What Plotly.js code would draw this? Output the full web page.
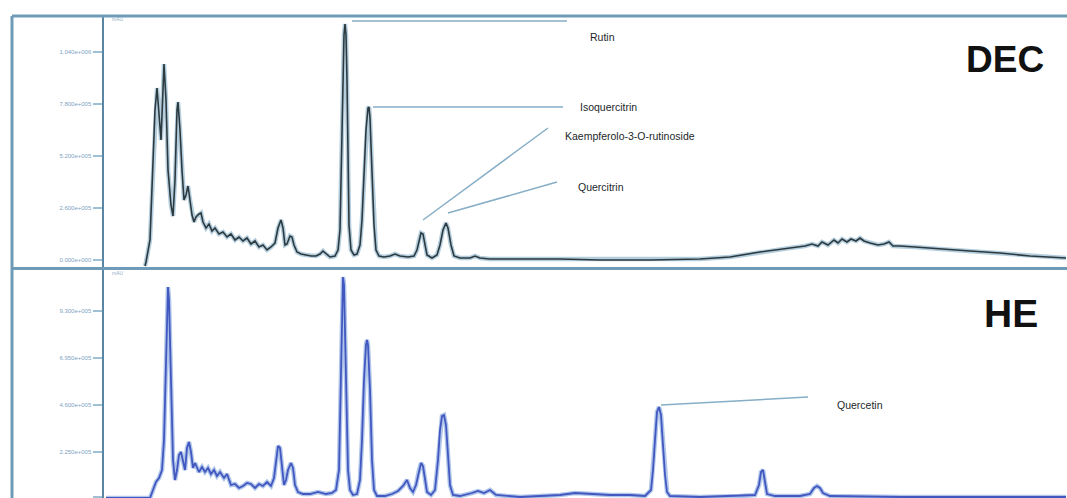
<!DOCTYPE html>
<html>
<head>
<meta charset="utf-8">
<script src="https://cdn.plot.ly/plotly-3.0.1.min.js"></script>
<style>html,body{margin:0;padding:0;background:#fff;}#chart{width:1067px;height:498px;}</style>
</head>
<body>
<div id="chart"></div>
<script>
// Retention time (min) and detector response (x1000 counts)
const decTime = [2.05,2.1,2.3,2.45,2.55,2.65,2.75,2.85,2.95,3.0,3.1,3.2,3.35,3.45,3.55,3.65,3.7,3.8,3.9,
  4.0,4.1,4.2,4.3,4.4,4.5,4.6,4.75,4.85,4.95,5.1,5.25,5.4,5.55,5.75,5.95,6.15,6.35,6.55,6.75,
  6.95,7.15,7.35,7.55,7.75,7.95,8.15,8.35,8.55,8.7,8.85,8.95,9.05,9.15,9.3,9.4,9.5,9.65,9.85,10.1,
  10.35,10.6,10.8,10.95,11.1,11.3,11.55,11.7,11.8,11.85,11.9,11.95,12.0,12.05,12.1,12.15,12.2,12.25,12.35,12.5,
  12.65,12.8,12.9,13.0,13.1,13.2,13.25,13.3,13.4,13.5,13.6,13.75,14.0,14.3,14.55,14.8,15.2,15.5,15.65,15.75,
  15.85,15.95,16.05,16.15,16.4,16.65,16.8,16.95,17.1,17.2,17.35,17.5,17.8,18.3,18.55,18.8,19.3,20.8,22.8,24.8,
  27.3,29.8,31.3,32.8,34.3,35.05,35.4,35.7,35.9,36.2,36.5,36.7,36.9,37.15,37.35,37.6,37.8,38.0,38.3,38.7,
  39.0,39.25,39.45,39.8,40.55,41.8,43.3,44.8,46.3,48.1];
const decSignal = [-30,-10,100,450,750,860,750,600,850,980,800,450,275,220,400,750,790,650,450,
  300,325,370,300,225,190,215,230,235,190,160,180,145,160,130,140,115,130,100,115,
  95,110,80,95,65,75,50,65,85,160,200,160,75,80,120,115,75,40,30,25,
  20,20,30,45,30,15,20,50,150,400,700,1000,1125,1180,1125,900,500,175,50,25,
  30,75,200,400,650,760,765,710,450,175,50,20,15,20,30,20,15,20,50,100,
  135,130,75,25,10,25,75,150,185,160,75,20,10,10,20,10,5,5,5,0,
  0,5,15,40,60,70,80,70,90,75,100,85,105,90,105,95,110,95,85,75,
  80,90,70,70,65,55,45,35,20,10];

const heTime = [0.1,2.3,2.45,2.6,2.75,2.9,3.0,3.1,3.15,3.2,3.25,3.3,3.35,3.45,3.55,3.65,3.75,3.85,3.95,4.05,
  4.15,4.25,4.35,4.45,4.55,4.65,4.75,4.9,5.05,5.2,5.35,5.5,5.65,5.8,6.0,6.15,6.35,6.55,6.75,6.95,
  7.15,7.35,7.55,7.75,7.95,8.15,8.35,8.5,8.6,8.7,8.8,8.9,9.0,9.1,9.2,9.35,9.45,9.55,9.7,9.95,
  10.3,10.7,11.1,11.4,11.6,11.75,11.8,11.85,11.9,11.95,12.0,12.05,12.1,12.2,12.3,12.45,12.65,12.8,12.9,13.0,
  13.1,13.15,13.2,13.3,13.4,13.5,13.65,14.05,14.4,14.7,14.95,15.15,15.3,15.45,15.6,15.75,15.85,15.95,16.05,16.15,
  16.35,16.55,16.7,16.8,16.9,17.0,17.1,17.2,17.3,17.45,17.8,18.4,18.7,19.0,19.3,19.6,20.05,20.8,21.8,22.8,
  23.55,24.3,25.3,26.3,27.05,27.35,27.45,27.55,27.65,27.75,27.85,27.95,28.05,28.15,28.3,29.8,31.8,32.55,32.75,32.85,
  32.95,33.05,33.15,33.55,34.8,35.3,35.5,35.65,35.8,35.95,36.3,39.8,44.8,48.1];
const heSignal = [-5,-5,35,75,95,135,285,735,985,1050,985,835,585,185,85,135,210,225,175,135,
  245,275,225,145,170,145,125,150,125,145,115,135,105,125,95,115,60,65,45,55,
  70,65,45,65,55,75,55,95,185,255,245,135,60,85,135,170,145,60,25,15,
  15,25,15,20,35,135,385,735,985,1100,1060,835,485,135,35,10,15,85,285,585,
  760,785,760,535,185,35,5,5,15,30,55,85,45,25,60,135,170,155,85,25,
  10,35,185,335,405,410,360,210,60,10,5,20,30,20,35,10,5,0,5,10,
  20,15,10,10,5,35,135,285,425,450,410,260,110,25,5,0,5,10,60,125,
  135,65,15,5,5,15,45,55,45,20,5,0,0,0];

const panelNames = ["DEC", "HE"];
const peakLabels = ["Rutin", "Isoquercitrin", "Kaempferolo-3-O-rutinoside", "Quercitrin", "Quercetin"];
const decTickVals = [0, 260, 520, 780, 1040];
const decTickText = ["0.000e+000", "2.600e+005", "5.200e+005", "7.800e+005", "1.040e+006"];
const heTickVals = [0, 225, 460, 695, 930];
const heTickText = ["0.000e+000", "2.250e+005", "4.600e+005", "6.950e+005", "9.300e+005"];

const W = 1067, H = 498;
const px = v => v / W;
const py = v => 1 - v / H;

const traces = [
  {x: decTime, y: decSignal, xaxis: 'x', yaxis: 'y', mode: 'lines', line: {color: 'rgba(120,165,195,0.55)', width: 4.5}, hoverinfo: 'skip', showlegend: false},
  {x: decTime, y: decSignal, xaxis: 'x', yaxis: 'y', mode: 'lines', line: {color: '#2c3a3f', width: 1.6}, name: panelNames[0], showlegend: false},
  {x: heTime, y: heSignal, xaxis: 'x2', yaxis: 'y2', mode: 'lines', line: {color: 'rgba(110,150,215,0.55)', width: 4.5}, hoverinfo: 'skip', showlegend: false},
  {x: heTime, y: heSignal, xaxis: 'x2', yaxis: 'y2', mode: 'lines', line: {color: '#4257c0', width: 1.8}, name: panelNames[1], showlegend: false}
];

const yCommon = {
  showline: true, linecolor: '#5a86a6', linewidth: 2.5, showgrid: false, zeroline: false,
  ticks: 'outside', ticklen: 9, tickwidth: 1.5, tickcolor: '#9fbfd5',
  tickfont: {family: 'Liberation Sans, Arial, sans-serif', size: 6, color: '#7ea3bf'}
};
const xCommon = {range: [0, 48.15], showline: false, showgrid: false, zeroline: false, showticklabels: false, ticks: ''};

const frame = '#6f9bb8', leader = '#86aec6';
const shapes = [
  {type: 'line', xref: 'paper', yref: 'paper', x0: px(12), x1: 1, y0: py(16), y1: py(16), line: {color: frame, width: 3}},
  {type: 'line', xref: 'paper', yref: 'paper', x0: px(12), x1: px(12), y0: py(16), y1: 0, line: {color: frame, width: 3}},
  {type: 'line', xref: 'paper', yref: 'paper', x0: px(12), x1: 1, y0: py(268.5), y1: py(268.5), line: {color: frame, width: 3}},
  {type: 'line', xref: 'paper', yref: 'paper', x0: px(352), x1: px(567), y0: py(21), y1: py(21), line: {color: leader, width: 1.5}},
  {type: 'line', xref: 'paper', yref: 'paper', x0: px(373), x1: px(563), y0: py(107), y1: py(107), line: {color: leader, width: 1.5}},
  {type: 'line', xref: 'paper', yref: 'paper', x0: px(423), x1: px(548), y0: py(220), y1: py(128), line: {color: leader, width: 1.5}},
  {type: 'line', xref: 'paper', yref: 'paper', x0: px(448), x1: px(557), y0: py(213), y1: py(182), line: {color: leader, width: 1.5}},
  {type: 'line', xref: 'paper', yref: 'paper', x0: px(661), x1: px(808), y0: py(405), y1: py(397), line: {color: leader, width: 1.5}}
];

const lblFont = {family: 'Liberation Sans, Arial, sans-serif', size: 10.5, color: '#22272b'};
const bigFont = {family: 'Liberation Sans, Arial, sans-serif', size: 37, color: '#111111'};
const bigFont2 = {family: 'Liberation Sans, Arial, sans-serif', size: 39, color: '#111111'};
function ann(text, x, y, font, xanchor) {
  return {text: text, xref: 'paper', yref: 'paper', x: px(x), y: py(y), xanchor: xanchor || 'left', yanchor: 'middle', showarrow: false, font: font};
}
const annotations = [
  ann(peakLabels[0], 588, 37, lblFont),
  ann(peakLabels[1], 578, 107, lblFont),
  ann(peakLabels[2], 563, 136, lblFont),
  ann(peakLabels[3], 576, 187, lblFont),
  ann(peakLabels[4], 835, 405, lblFont),
  ann('<b>' + panelNames[0] + '</b>', 1046, 60, bigFont, 'right'),
  ann('<b>' + panelNames[1] + '</b>', 1040, 313, bigFont2, 'right'),
  ann('mAU', 110, 19, {family: 'Liberation Sans, Arial, sans-serif', size: 5, color: '#8fb0c8'}),
  ann('mAU', 110, 273, {family: 'Liberation Sans, Arial, sans-serif', size: 5, color: '#8fb0c8'})
];

const layout = {
  width: W, height: H,
  margin: {l: 0, r: 0, t: 0, b: 0},
  paper_bgcolor: '#ffffff', plot_bgcolor: '#ffffff',
  showlegend: false,
  xaxis: Object.assign({}, xCommon, {domain: [px(104), 1], anchor: 'y'}),
  xaxis2: Object.assign({}, xCommon, {domain: [px(104), 1], anchor: 'y2'}),
  yaxis: Object.assign({}, yCommon, {domain: [py(268), py(16)], range: [-40, 1220], anchor: 'x', tickvals: decTickVals, ticktext: decTickText}),
  yaxis2: Object.assign({}, yCommon, {domain: [0, py(270)], range: [-5, 1135], anchor: 'x2', tickvals: heTickVals, ticktext: heTickText}),
  shapes: shapes,
  annotations: annotations
};

Plotly.newPlot('chart', traces, layout, {staticPlot: true, displayModeBar: false});
</script>
</body>
</html>
